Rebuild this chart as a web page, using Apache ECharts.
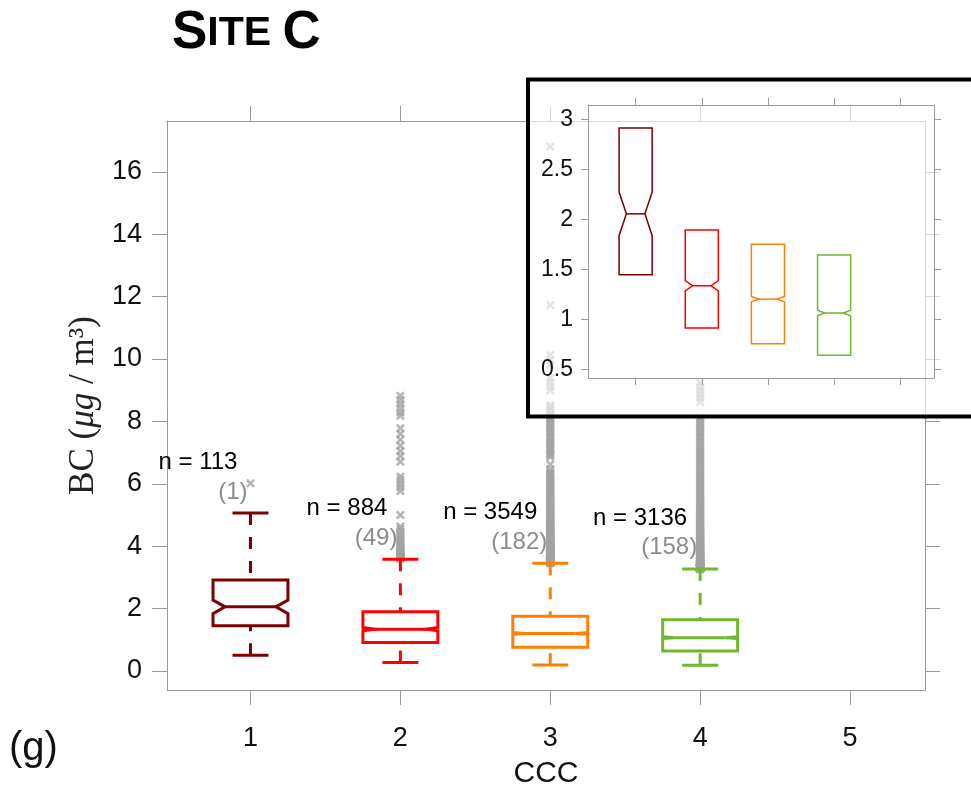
<!DOCTYPE html>
<html>
<head>
<meta charset="utf-8">
<script src="https://cdn.jsdelivr.net/npm/echarts@6/dist/echarts.min.js"></script>
<style>html,body{margin:0;padding:0;background:#fff;}#chart{width:971px;height:789px;}</style>
</head>
<body>
<div id="chart"></div>
<script>
// ---------- data ----------
const categories = [1, 2, 3, 4];
const xTickValues = [1, 2, 3, 4, 5];
const yTickValues = [0, 2, 4, 6, 8, 10, 12, 14, 16];
const insetYTickValues = [0.5, 1, 1.5, 2, 2.5, 3];
const sampleSizes = [113, 884, 3549, 3136];
const outlierCounts = [1, 49, 182, 158];
const whiskerLow  = [0.50, 0.27, 0.19, 0.18];
const quartile1   = [1.448, 0.916, 0.760, 0.643];
const medians     = [2.056, 1.338, 1.205, 1.066];
const quartile3   = [2.913, 1.896, 1.753, 1.644];
const whiskerHigh = [5.06, 3.58, 3.45, 3.27];

const outliers1 = [6.02];
const outliers2 = [8.82, 8.69, 8.56, 8.42, 8.29, 8.18, 7.78, 7.6, 7.41, 7.22, 7.05, 6.89, 6.71, 6.23, 6.12, 6.0, 5.89, 5.77, 5.0,
  4.63, 4.55, 4.47, 4.4, 4.33, 4.27, 4.21, 4.15, 4.1, 4.05, 4.0, 3.96, 3.92, 3.88, 3.85, 3.82, 3.79, 3.76, 3.74, 3.72,
  3.7, 3.68, 3.67, 3.66, 3.65, 3.64, 3.63, 3.62, 3.61, 3.6];
const outliers3 = [16.81, 11.73, 10.13, 9.97, 9.81, 9.38, 9.25, 9.12, 9.0,
  8.52, 8.46, 8.41, 8.35, 8.28, 8.22, 8.15, 8.09, 8.02, 7.96, 7.9, 7.83, 7.77, 7.7, 7.64, 7.58, 7.51, 7.45, 7.38, 7.32,
  7.27, 7.2, 7.14, 7.08, 7.02, 6.96, 6.91, 6.87, 6.62, 6.47,
  6.38, 6.33, 6.29, 6.24, 6.19, 6.15, 6.1, 6.05, 6.01, 5.96, 5.92, 5.88, 5.83, 5.79, 5.75, 5.7, 5.66, 5.62, 5.58, 5.54,
  5.5, 5.46, 5.42, 5.38, 5.34, 5.3, 5.27, 5.23, 5.19, 5.16, 5.12, 5.09, 5.05, 5.02, 4.98, 4.95, 4.92, 4.88, 4.85, 4.82,
  4.79, 4.76, 4.73, 4.7, 4.67, 4.64, 4.61, 4.58, 4.55, 4.53, 4.5, 4.47, 4.45, 4.42, 4.39, 4.37, 4.34, 4.32, 4.29, 4.27,
  4.25, 4.22, 4.2, 4.18, 4.15, 4.13, 4.11, 4.09, 4.07, 4.05,
  4.03, 4.01, 3.99, 3.97, 3.95, 3.93, 3.91, 3.9, 3.88, 3.86, 3.84, 3.83, 3.81, 3.8, 3.78, 3.77, 3.75, 3.74, 3.72, 3.71,
  3.7, 3.68, 3.67, 3.66, 3.65, 3.63, 3.62, 3.61, 3.6, 3.59,
  3.58, 3.57, 3.56, 3.555, 3.55, 3.545, 3.54, 3.535, 3.53, 3.525, 3.52, 3.515, 3.51, 3.505, 3.5, 3.495, 3.49, 3.485,
  3.48, 3.475, 3.47, 3.468, 3.465, 3.462,
  4.44, 4.31, 4.21, 4.12, 4.02, 3.96, 3.89, 3.82, 3.76, 3.69, 3.64, 3.61, 3.585, 3.565, 3.548, 3.532, 3.512, 3.498, 3.482];
const outliers4 = [9.23, 9.1, 8.98, 8.86, 8.74, 8.62,
  8.12, 8.05, 7.97, 7.9, 7.82, 7.75, 7.67, 7.6, 7.52, 7.45, 7.37, 7.3, 7.22, 7.15, 7.07, 7.0, 6.92, 6.85, 6.77, 6.7,
  6.63, 6.56, 6.49, 6.42, 6.35, 6.28, 6.22, 6.15, 6.09, 6.02,
  5.96, 5.9, 5.84, 5.78, 5.72, 5.66, 5.6, 5.55, 5.49, 5.44, 5.38, 5.33, 5.28, 5.23, 5.18, 5.13, 5.08, 5.03, 4.99, 4.94,
  4.9, 4.85, 4.81, 4.77, 4.73, 4.69, 4.65, 4.61, 4.57, 4.53,
  4.5, 4.46, 4.43, 4.39, 4.36, 4.33, 4.3, 4.26, 4.23, 4.2, 4.17, 4.15, 4.12, 4.09, 4.06, 4.04, 4.01, 3.99, 3.96, 3.94,
  3.92, 3.89, 3.87, 3.85, 3.83, 3.81, 3.79, 3.77, 3.75, 3.73,
  3.71, 3.69, 3.68, 3.66, 3.64, 3.63, 3.61, 3.6, 3.58, 3.57, 3.56, 3.54, 3.53, 3.52, 3.51, 3.49, 3.48, 3.47, 3.46, 3.45,
  3.44, 3.43, 3.42, 3.41, 3.4, 3.39, 3.38, 3.37, 3.365, 3.36,
  3.355, 3.35, 3.345, 3.34, 3.336, 3.332, 3.328, 3.324, 3.32, 3.316, 3.312, 3.308, 3.305, 3.302, 3.299, 3.296, 3.293,
  3.29, 3.288, 3.286, 3.284, 3.282, 3.28, 3.279, 3.278, 3.277, 3.276, 3.275, 3.274, 3.273, 3.272, 3.271];
const outlierSets = [outliers1, outliers2, outliers3, outliers4];

// ---------- styling ----------
const boxColors = ['#7f0000', '#ff0000', '#ff8000', '#70b62e'];
const frameColor = '#9a9a9a';
const SANS = '"Liberation Sans", Arial, Helvetica, sans-serif';
const SERIF = '"Liberation Serif", "DejaVu Serif", serif';
const xSymbol = 'path://M0 2L2 0L5 3L8 0L10 2L7 5L10 8L8 10L5 7L2 10L0 8L3 5Z';

const boxRows = categories.map((c, i) => {
  const notch = 1.58 * (quartile3[i] - quartile1[i]) / Math.sqrt(sampleSizes[i]);
  return [c, whiskerLow[i], quartile1[i], medians[i], quartile3[i], whiskerHigh[i], notch, i];
});
const outlierData = [];
outlierSets.forEach((arr, i) => arr.forEach(v => outlierData.push([categories[i], v])));
const labelRows = categories.map((c, i) => [c, whiskerHigh[i], i]);

function makeBoxRenderer(opts) {
  return function (params, api) {
    const x = api.value(0), lo = api.value(1), q1 = api.value(2), md = api.value(3),
          q3 = api.value(4), hi = api.value(5), nh = api.value(6), idx = api.value(7);
    const color = boxColors[idx];
    const w = 0.25, ind = w * opts.indent, cap = 0.12;
    const P = (a, b) => api.coord([a, b]);
    const pts = [P(x - w, q1), P(x - w, md - nh), P(x - w + ind, md), P(x - w, md + nh), P(x - w, q3),
                 P(x + w, q3), P(x + w, md + nh), P(x + w - ind, md), P(x + w, md - nh), P(x + w, q1)];
    const children = [
      { type: 'polygon', shape: { points: pts }, style: { fill: 'none', stroke: color, lineWidth: opts.lw, lineJoin: 'miter' } },
      { type: 'line', shape: { x1: P(x - w + ind, md)[0], y1: P(x, md)[1], x2: P(x + w - ind, md)[0], y2: P(x, md)[1] },
        style: { stroke: color, lineWidth: opts.lw } }
    ];
    if (opts.whiskers) {
      const a = P(x, hi), b = P(x, q3), c = P(x, lo), d = P(x, q1);
      children.push(
        { type: 'line', shape: { x1: a[0], y1: a[1], x2: b[0], y2: b[1] }, style: { stroke: color, lineWidth: opts.lw, lineDash: [12, 12] } },
        { type: 'line', shape: { x1: c[0], y1: c[1], x2: d[0], y2: d[1] }, style: { stroke: color, lineWidth: opts.lw, lineDash: [12, 12] } },
        { type: 'line', shape: { x1: P(x - cap, hi)[0], y1: a[1], x2: P(x + cap, hi)[0], y2: a[1] }, style: { stroke: color, lineWidth: opts.lw } },
        { type: 'line', shape: { x1: P(x - cap, lo)[0], y1: c[1], x2: P(x + cap, lo)[0], y2: c[1] }, style: { stroke: color, lineWidth: opts.lw } }
      );
    }
    return { type: 'group', children };
  };
}

function renderLabels(params, api) {
  const x = api.value(0), hi = api.value(1), idx = api.value(2);
  const a = api.coord([x - 0.087, hi + 1.62]);
  const b = api.coord([x - 0.02, hi + 0.68]);
  return {
    type: 'group', children: [
      { type: 'text', x: a[0], y: a[1], style: { text: 'n = ' + sampleSizes[idx], fill: '#000', font: '24px ' + SANS, align: 'right', verticalAlign: 'middle' } },
      { type: 'text', x: b[0], y: b[1], style: { text: '(' + outlierCounts[idx] + ')', fill: '#8c8c8c', font: '24px ' + SANS, align: 'right', verticalAlign: 'middle' } }
    ]
  };
}

const tickStyle = { lineStyle: { color: frameColor, width: 1 } };
function frameAxis(extra) {
  return Object.assign({
    type: 'value',
    axisLine: { show: true, onZero: false, lineStyle: { color: frameColor, width: 1 } },
    splitLine: { show: false }
  }, extra);
}

const chart = echarts.init(document.getElementById('chart'), null, { renderer: 'canvas' });
chart.setOption({
  animation: false,
  backgroundColor: '#fff',
  grid: [
    { left: 167, right: 46, top: 121, bottom: 99, containLabel: false, outerBoundsMode: 'none' },
    { left: 588, right: 37, top: 105, bottom: 411, z: 60, containLabel: false, outerBoundsMode: 'none' }
  ],
  xAxis: [
    frameAxis({ gridIndex: 0, position: 'bottom', min: 0.443, max: 5.5,
      axisTick: Object.assign({ show: true, inside: false, length: 15, customValues: xTickValues }, tickStyle),
      axisLabel: { show: true, customValues: xTickValues, margin: 35, color: '#111', fontSize: 27, fontFamily: SANS },
      name: 'CCC', nameLocation: 'middle', nameGap: 69,
      nameTextStyle: { fontSize: 30, fontFamily: SANS, color: '#111' } }),
    frameAxis({ gridIndex: 0, position: 'top', min: 0.443, max: 5.5,
      axisTick: Object.assign({ show: true, inside: false, length: 15, customValues: xTickValues }, tickStyle),
      axisLabel: { show: false } }),
    frameAxis({ gridIndex: 1, position: 'bottom', min: 0.28, max: 5.51, z: 60,
      axisTick: Object.assign({ show: true, inside: false, length: 7, customValues: xTickValues }, tickStyle),
      axisLabel: { show: false } }),
    frameAxis({ gridIndex: 1, position: 'top', min: 0.28, max: 5.51, z: 60,
      axisTick: Object.assign({ show: true, inside: false, length: 7, customValues: xTickValues }, tickStyle),
      axisLabel: { show: false } })
  ],
  yAxis: [
    frameAxis({ gridIndex: 0, position: 'left', min: -0.61, max: 17.63,
      axisTick: Object.assign({ show: true, inside: false, length: 15, customValues: yTickValues }, tickStyle),
      axisLabel: { show: true, customValues: yTickValues, margin: 25, color: '#111', fontSize: 27, fontFamily: SANS },
      name: '{n|BC (}{i|μg}{n| / m³)}', nameLocation: 'middle', nameRotate: 90, nameGap: 64,
      nameTextStyle: { rich: {
        n: { fontSize: 35, fontFamily: SERIF, color: '#222' },
        i: { fontSize: 35, fontFamily: SERIF, fontStyle: 'italic', color: '#222' } } } }),
    frameAxis({ gridIndex: 0, position: 'right', min: -0.61, max: 17.63,
      axisTick: Object.assign({ show: true, inside: false, length: 15, customValues: yTickValues }, tickStyle),
      axisLabel: { show: false } }),
    frameAxis({ gridIndex: 1, position: 'left', min: 0.417, max: 3.143, z: 60,
      axisTick: Object.assign({ show: true, inside: false, length: 7, customValues: insetYTickValues }, tickStyle),
      axisLabel: { show: true, customValues: insetYTickValues, margin: 15, color: '#111', fontSize: 23, fontFamily: SANS } }),
    frameAxis({ gridIndex: 1, position: 'right', min: 0.417, max: 3.143, z: 60,
      axisTick: Object.assign({ show: true, inside: false, length: 7, customValues: insetYTickValues }, tickStyle),
      axisLabel: { show: false } })
  ],
  graphic: [
    { type: 'text', left: 172, top: 7, z: 10,
      style: { text: '{a|S}{b|ITE }{a|C}', rich: {
        a: { fontSize: 53, fontWeight: 'bold', fontFamily: SANS, fill: '#000' },
        b: { fontSize: 41, fontWeight: 'bold', fontFamily: SANS, fill: '#000' } } } },
    { type: 'text', left: 9, top: 729, z: 10,
      style: { text: '(g)', fontSize: 40, fontFamily: SANS, fill: '#111' } },
    { type: 'rect', z: 50, shape: { x: 528, y: 79.5, width: 480, height: 337 },
      style: { fill: 'rgba(255,255,255,0.62)', stroke: '#000', lineWidth: 4 } }
  ],
  series: [
    { type: 'scatter', name: 'outliers', xAxisIndex: 0, yAxisIndex: 0, z: 3,
      symbol: xSymbol, symbolSize: 9, itemStyle: { color: '#a3a3a3' }, data: outlierData },
    { type: 'custom', name: 'boxes', xAxisIndex: 0, yAxisIndex: 0, z: 4,
      renderItem: makeBoxRenderer({ lw: 3, indent: 0.32, whiskers: true }), data: boxRows },
    { type: 'custom', name: 'labels', xAxisIndex: 0, yAxisIndex: 0, z: 2,
      renderItem: renderLabels, data: labelRows },
    { type: 'custom', name: 'insetBoxes', xAxisIndex: 2, yAxisIndex: 2, z: 70,
      renderItem: makeBoxRenderer({ lw: 1.5, indent: 0.44, whiskers: false }), data: boxRows }
  ]
});
</script>
</body>
</html>
